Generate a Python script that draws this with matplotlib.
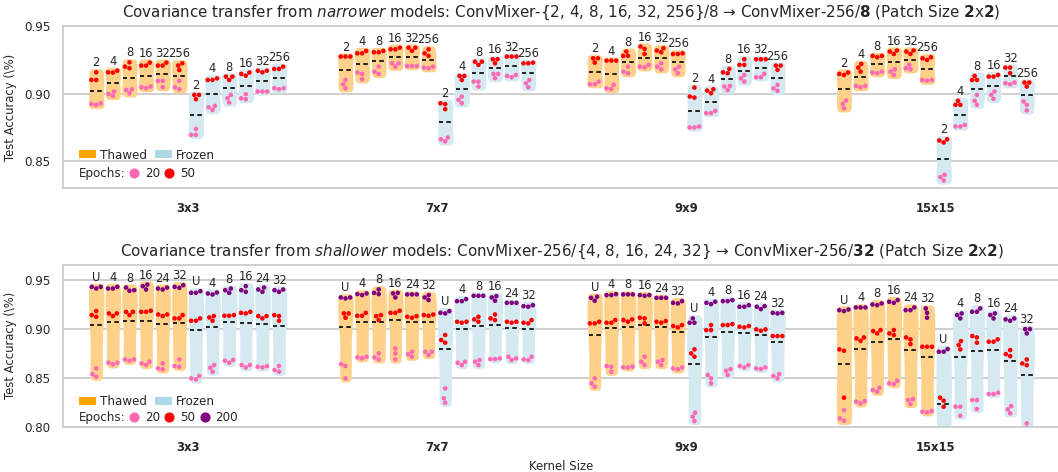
import numpy as np
import pandas as pd
import matplotlib
matplotlib.use('Agg')
import matplotlib.pyplot as plt
import seaborn as sns
from matplotlib.patches import Patch
from matplotlib.lines import Line2D
from matplotlib.ticker import FormatStrFormatter

# ---------------- data ----------------
kernels = ['3x3', '7x7', '9x9', '15x15']
top_models = ['2', '4', '8', '16', '32', '256']
bot_models = ['U', '4', '8', '16', '24', '32']

# top panel: [kernel][model] -> 3 runs
top_thawed_20 = [
    [[.8923, .8916, .8928], [.8997, .8982, .9015], [.9032, .9027, .9002], [.9047, .9040, .9052], [.9094, .9094, .9047], [.9094, .9032, .9047]],
    [[.9101, .9069, .9039], [.9156, .9146, .9106], [.9200, .9163, .9146], [.9225, .9200, .9225], [.9205, .9205, .9205], [.9193, .9188, .9200]],
    [[.9069, .9069, .9089], [.9064, .9039, .9034], [.9200, .9163, .9151], [.9200, .9195, .9213], [.9225, .9200, .9180], [.9200, .9180, .9151]],
    [[.8948, .8923, .8890], [.9057, .9047, .9057], [.9151, .9156, .9163], [.9180, .9163, .9138], [.9213, .9188, .9180], [.9101, .9096, .9101]],
]
top_thawed_50 = [
    [[.9158, .9101, .9101], [.9158, .9156, .9170], [.9232, .9200, .9188], [.9208, .9208, .9230], [.9230, .9208, .9208], [.9225, .9208, .9175]],
    [[.9275, .9275, .9275], [.9299, .9299, .9317], [.9307, .9307, .9317], [.9329, .9329, .9341], [.9341, .9317, .9341], [.9329, .9299, .9280]],
    [[.9262, .9230, .9262], [.9245, .9245, .9245], [.9312, .9280, .9280], [.9350, .9332, .9294], [.9337, .9307, .9320], [.9294, .9294, .9299]],
    [[.9156, .9146, .9138], [.9220, .9193, .9163], [.9280, .9270, .9280], [.9312, .9294, .9320], [.9312, .9294, .9320], [.9262, .9250, .9270]],
]
top_frozen_20 = [
    [[.8737, .8693, .8693], [.8908, .8878, .8898], [.8990, .8965, .8933], [.8965, .8958, .8995], [.9015, .9015, .9015], [.9040, .9032, .9040]],
    [[.8673, .8660, .8644], [.8978, .8953, .8928], [.9089, .9089, .9052], [.9146, .9146, .9114], [.9138, .9131, .9121], [.9101, .9077, .9047]],
    [[.8748, .8748, .8755], [.8854, .8854, .8871], [.9052, .9027, .9057], [.9138, .9114, .9089], [.9146, .9121, .9121], [.9064, .9039, .9020]],
    [[.8396, .8379, .8354], [.8755, .8755, .8767], [.8990, .8946, .8916], [.9015, .8990, .8960], [.9082, .9069, .9077], [.8941, .8916, .8874]],
]
top_frozen_50 = [
    [[.8990, .8990, .8958], [.9101, .9101, .9113], [.9126, .9126, .9101], [.9146, .9133, .9156], [.9170, .9170, .9158], [.9200, .9183, .9183]],
    [[.8921, .8928, .8884], [.9131, .9131, .9101], [.9237, .9237, .9213], [.9255, .9255, .9225], [.9275, .9275, .9275], [.9225, .9225, .9230]],
    [[.9044, .8978, .8970], [.9032, .9022, .9002], [.9183, .9158, .9151], [.9255, .9213, .9213], [.9255, .9255, .9255], [.9208, .9208, .9176]],
    [[.8660, .8636, .8651], [.8916, .8916, .8946], [.9101, .9101, .9131], [.9126, .9126, .9138], [.9193, .9193, .9151], [.9082, .9082, .9052]],
]

# bottom panel
bot_thawed_20 = [
    [[.8537, .8510, .8595], [.8653, .8636, .8653], [.8687, .8673, .8687], [.8646, .8629, .8663], [.8595, .8585, .8646], [.8619, .8612, .8687]],
    [[.8639, .8619, .8493], [.8707, .8697, .8714], [.8748, .8707, .8687], [.8799, .8748, .8687], [.8741, .8714, .8765], [.8765, .8731, .8765]],
    [[.8493, .8442, .8408], [.8612, .8561, .8619], [.8605, .8605, .8612], [.8714, .8663, .8629], [.8663, .8629, .8680], [.8595, .8585, .8605]],
    [[.8170, .8085, .8061], [.8255, .8238, .8262], [.8374, .8357, .8398], [.8442, .8435, .8469], [.8272, .8231, .8282], [.8153, .8146, .8160]],
]
bot_thawed_50 = [
    [[.9139, .9180, .9122], [.9156, .9129, .9156], [.9172, .9139, .9172], [.9172, .9172, .9183], [.9145, .9129, .9145], [.9105, .9105, .9139]],
    [[.9156, .9112, .9156], [.9132, .9132, .9162], [.9128, .9088, .9139], [.9162, .9162, .9183], [.9122, .9112, .9128], [.9139, .9132, .9145]],
    [[.9054, .9054, .9071], [.9061, .9061, .9088], [.9088, .9071, .9095], [.9105, .9054, .9112], [.9071, .9061, .9078], [.9027, .9013, .9037]],
    [[.8789, .8775, .8296], [.8901, .8877, .8911], [.8976, .8952, .8986], [.8952, .8935, .8986], [.8911, .8843, .8891], [.8816, .8816, .8816]],
]
bot_thawed_200 = [
    [[.9427, .9410, .9427], [.9410, .9410, .9427], [.9393, .9387, .9420], [.9434, .9400, .9450], [.9410, .9400, .9420], [.9427, .9417, .9444]],
    [[.9319, .9309, .9319], [.9353, .9343, .9360], [.9366, .9353, .9401], [.9360, .9319, .9366], [.9350, .9350, .9350], [.9319, .9292, .9343]],
    [[.9315, .9285, .9326], [.9343, .9343, .9353], [.9350, .9350, .9350], [.9343, .9336, .9343], [.9315, .9315, .9315], [.9264, .9258, .9281]],
    [[.9180, .9189, .9196], [.9217, .9217, .9217], [.9247, .9240, .9258], [.9264, .9275, .9292], [.9189, .9189, .9217], [.9162, .9207, .9112]],
]
bot_frozen_20 = [
    [[.8493, .8483, .8517], [.8602, .8561, .8629], [.8673, .8653, .8680], [.8629, .8605, .8629], [.8612, .8605, .8619], [.8619, .8561, .8578]],
    [[.8391, .8290, .8245], [.8663, .8629, .8653], [.8663, .8629, .8680], [.8690, .8690, .8697], [.8697, .8680, .8714], [.8687, .8680, .8714]],
    [[.8143, .8102, .8058], [.8527, .8493, .8442], [.8588, .8571, .8527], [.8619, .8605, .8629], [.8595, .8588, .8605], [.8517, .8493, .8537]],
    [[.7700, .7650, .7610], [.8204, .8204, .8112], [.8272, .8272, .8180], [.8333, .8333, .8347], [.8211, .8136, .8177], [.8034, .7980, .7830]],
]
bot_frozen_50 = [
    [[.9081, .9081, .9105], [.9115, .9081, .9129], [.9132, .9132, .9139], [.9162, .9156, .9172], [.9129, .9105, .9129], [.9129, .9081, .9139]],
    [[.8935, .8884, .8857], [.9071, .9061, .9071], [.9095, .9071, .9122], [.9105, .9088, .9145], [.9071, .9061, .9071], [.9054, .9088, .9061]],
    [[.8789, .8748, .8714], [.8986, .9037, .8986], [.9037, .9037, .9047], [.9020, .9013, .9027], [.8993, .8979, .8993], [.8925, .8925, .8925]],
    [[.8296, .8265, .8204], [.8833, .8874, .8789], [.8925, .8857, .8911], [.8867, .8867, .8891], [.8741, .8720, .8782], [.8645, .8628, .8686]],
]
bot_frozen_200 = [
    [[.9366, .9366, .9383], [.9359, .9349, .9369], [.9393, .9366, .9410], [.9393, .9376, .9434], [.9400, .9376, .9420], [.9393, .9376, .9400]],
    [[.9162, .9156, .9179], [.9281, .9281, .9302], [.9336, .9336, .9336], [.9319, .9285, .9332], [.9264, .9264, .9264], [.9230, .9224, .9240]],
    [[.9061, .9061, .9105], [.9275, .9251, .9264], [.9281, .9281, .9292], [.9224, .9224, .9240], [.9230, .9200, .9224], [.9162, .9156, .9162]],
    [[.8765, .8765, .8792], [.9156, .9140, .9105], [.9173, .9173, .9207], [.9140, .9105, .9156], [.9095, .9081, .9105], [.8996, .8996, .8952]],
]

epoch_colors = {'20': '#ff69b4', '50': '#ff0000', '200': '#800080'}
thawed_fill = '#fdd18a'
frozen_fill = '#d4e9f0'

top_title = (r"Covariance transfer from $\it{narrower}$ models: ConvMixer-{2, 4, 8, 16, 32, 256}/8"
             r" → ConvMixer-256/$\bf{8}$ (Patch Size $\bf{2}$x$\bf{2}$)")
bot_title = (r"Covariance transfer from $\it{shallower}$ models: ConvMixer-256/{4, 8, 16, 24, 32}"
             r" → ConvMixer-256/$\bf{32}$ (Patch Size $\bf{2}$x$\bf{2}$)")

# ---------------- style ----------------
sns.set_theme(style='whitegrid')
plt.rcParams['font.family'] = ['DejaVu Sans']
plt.rcParams['axes.edgecolor'] = '#cccccc'
plt.rcParams['grid.color'] = '#cccccc'
plt.rcParams['axes.linewidth'] = 1.3
plt.rcParams['grid.linewidth'] = 1.3
TXT = '#262626'

W, H = 1058, 472
fig = plt.figure(figsize=(W / 100, H / 100), dpi=100)
ax_top = fig.add_axes([63 / W, 1 - 187.7 / H, 997 / W, 161.4 / H])
ax_bot = fig.add_axes([63 / W, 1 - 426.7 / H, 997 / W, 161.7 / H])

NSLOT = 12
SLOT = 0.8 / NSLOT


def draw_panel(ax, models, epochs, thawed, frozen, ylim, yticks, title, leg_rows):
    combos = ['T' + m for m in models] + ['F' + m for m in models]
    rows = []
    for k, kern in enumerate(kernels):
        for j, combo in enumerate(combos):
            group = thawed if j < 6 else frozen
            m = j % 6
            allv = []
            for ei, ep in enumerate(epochs):
                vals = group[ei][k][m]
                allv.extend(vals)
                for v in vals:
                    rows.append({'kernel': kern, 'combo': combo, 'epoch': ep, 'acc': v})
            pos = k + (j - (NSLOT - 1) / 2) * SLOT
            vp = ax.violinplot([allv], positions=[pos], widths=0.033,
                               showextrema=False, showmeans=False, showmedians=False)
            col = thawed_fill if j < 6 else frozen_fill
            for b in vp['bodies']:
                b.set_facecolor(col)
                b.set_edgecolor(col)
                b.set_alpha(1)
                b.set_linewidth(5.2)
                b.set_joinstyle('round')
                b.set_zorder(1)
            mean = float(np.mean(allv))
            ax.hlines(mean, pos - 0.025, pos + 0.025, colors='#111111',
                      linestyles=(0.3, (2.5, 1.85)), linewidth=1.3, zorder=2.5)
            lab = models[m]
            ax.annotate(lab, (pos, max(allv)), xytext=(0, 4.3), textcoords='offset points',
                        ha='center', va='baseline', fontsize=8.3, color=TXT, zorder=5,
                        annotation_clip=False)
    df = pd.DataFrame(rows)
    for ep in epochs:
        sub = df[df['epoch'] == ep]
        sns.swarmplot(data=sub, x='kernel', y='acc', hue='combo', order=kernels,
                      hue_order=combos, dodge=True,
                      palette={c: epoch_colors[ep] for c in combos},
                      size=3.3, linewidth=0, legend=False, ax=ax, zorder=3)
    ax.set_xlim(-0.5, 3.5)
    ax.set_ylim(*ylim)
    ax.set_yticks(yticks)
    ax.yaxis.set_major_formatter(FormatStrFormatter('%.2f'))
    ax.set_xticks(range(len(kernels)))
    ax.set_xticklabels(kernels, fontweight='bold', fontsize=8.4, color=TXT)
    ax.tick_params(axis='x', length=0, pad=10.5)
    ax.tick_params(axis='y', length=0, pad=9, labelsize=8.6, labelcolor=TXT)
    ax.xaxis.grid(False)
    ax.yaxis.grid(True)
    ax.set_axisbelow(True)
    ax.set_ylabel('Test Accuracy (\\%)', fontsize=8.4, color=TXT, labelpad=5)
    ax.set_xlabel('')
    ax.set_title(title, fontsize=10.9, color=TXT, pad=6.5)

    # legends
    y1, y2 = leg_rows
    leg1 = ax.legend(handles=[Patch(facecolor='#ffa500', edgecolor='none', label='Thawed'),
                              Patch(facecolor='#add8e6', edgecolor='none', label='Frozen')],
                     loc='center left', bbox_to_anchor=(0.016, y1), ncol=2, frameon=False,
                     borderpad=0, borderaxespad=0, handlelength=1.45, handleheight=0.6,
                     handletextpad=0.35, columnspacing=0.6, fontsize=8.6, labelcolor=TXT)
    ax.add_artist(leg1)
    ax.text(0.016, y2, 'Epochs:', transform=ax.transAxes, ha='left', va='center',
            fontsize=8.6, color=TXT)
    handles = [Line2D([0], [0], marker='o', ls='', color=epoch_colors[ep], markersize=6.3)
               for ep in epochs]
    ax.legend(handles=handles, labels=epochs, loc='center left',
              bbox_to_anchor=(0.0652, y2), ncol=len(epochs), frameon=False,
              borderpad=0, borderaxespad=0, handlelength=1.0, handletextpad=0.4,
              columnspacing=0.3, fontsize=8.6, labelcolor=TXT)


draw_panel(ax_top, top_models, ['20', '50'],
           [top_thawed_20, top_thawed_50], [top_frozen_20, top_frozen_50],
           (0.83, 0.95), [0.85, 0.90, 0.95], top_title, (0.2026, 0.088))
draw_panel(ax_bot, bot_models, ['20', '50', '200'],
           [bot_thawed_20, bot_thawed_50, bot_thawed_200],
           [bot_frozen_20, bot_frozen_50, bot_frozen_200],
           (0.80, 0.965), [0.80, 0.85, 0.90, 0.95], bot_title, (0.1546, 0.057))
ax_bot.set_xlabel('Kernel Size', fontsize=8.4, color=TXT, labelpad=4)

fig.savefig('out.png', dpi=100)
